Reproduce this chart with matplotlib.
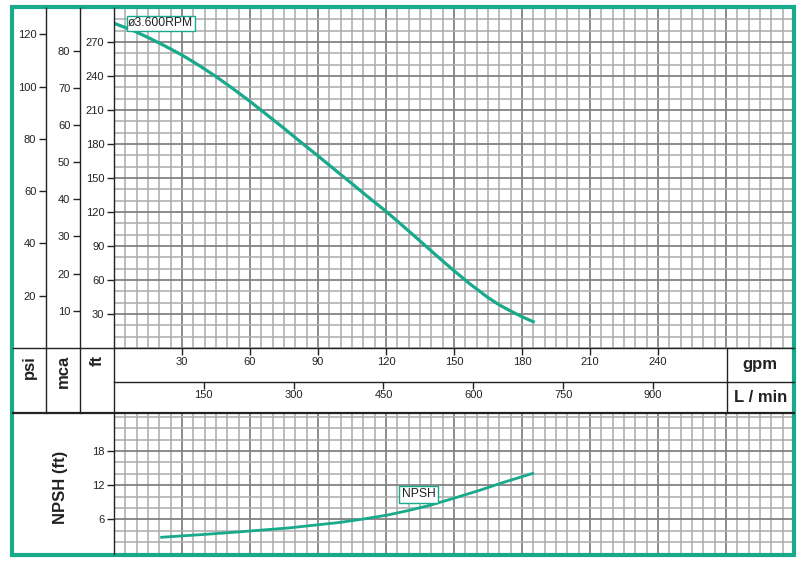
import matplotlib
matplotlib.use('Agg')
import matplotlib.pyplot as plt
from matplotlib.ticker import MultipleLocator
from matplotlib.patches import Rectangle

plt.rcParams['font.family'] = ['Liberation Sans', 'DejaVu Sans']

# pump curve
flow_gpm = [0, 8, 15, 22, 30, 37, 45, 52, 60, 67, 75, 82, 90, 97, 105, 112,
            120, 127, 135, 142, 150, 157, 165, 170, 175, 180, 185.6]
head_ft = [286.5, 280.5, 274, 267, 258.5, 250, 239.5, 229.5, 217.6, 206.5, 193.8, 182.3,
           169.5, 158, 145, 133.4, 120.6, 108.5, 94.5, 82, 68.2, 56.6, 44.5, 38, 32.6, 27.6, 22.6]

npsh_gpm = [21, 40, 55.4, 77.5, 99.6, 110, 120.7, 130, 139.3, 150, 161.4, 172, 184.7]
npsh_ft = [2.85, 3.35, 3.8, 4.5, 5.45, 6.05, 6.75, 7.55, 8.45, 9.7, 11.1, 12.5, 14.05]

ft_ticks = [30, 60, 90, 120, 150, 180, 210, 240, 270]
psi_ticks = [20, 40, 60, 80, 100, 120]
mca_ticks = [10, 20, 30, 40, 50, 60, 70, 80]
gpm_ticks = [30, 60, 90, 120, 150, 180, 210, 240]
lpm_ticks = [150, 300, 450, 600, 750, 900]
npsh_ticks = [6, 12, 18]

teal = '#19a98b'
ink = '#222222'
W, H = 804, 564


def box(x0, y0, x1, y1):
    return [x0 / W, 1 - y1 / H, (x1 - x0) / W, (y1 - y0) / H]


def grid_style(ax):
    ax.grid(which='minor', color='#ababab', lw=1.1)
    ax.grid(which='major', color='#828282', lw=1.3)
    ax.set_axisbelow(True)
    for s in ax.spines.values():
        s.set_visible(False)


fig = plt.figure(figsize=(8.04, 5.64), dpi=100)

# head curve
ax = fig.add_axes(box(114, 8, 794, 348))
ax.plot(flow_gpm, head_ft, color=teal, lw=2.3, solid_capstyle='butt', solid_joinstyle='round')
ax.set_xlim(0, 300)
ax.set_ylim(0, 300)
ax.xaxis.set_major_locator(MultipleLocator(30))
ax.xaxis.set_minor_locator(MultipleLocator(5))
ax.set_yticks(ft_ticks)
ax.yaxis.set_minor_locator(MultipleLocator(10))
grid_style(ax)
ax.tick_params(axis='x', which='both', length=0, labelbottom=False)
ax.tick_params(axis='y', which='major', length=5, width=1, labelsize=8, colors=ink, pad=2)
ax.tick_params(axis='y', which='minor', length=0)
ax.text(6.2, 286.5, 'ø3.600RPM', fontsize=8.7, color=ink, ha='left', va='center',
        bbox=dict(boxstyle='square,pad=0.12', fc='white', ec=teal, lw=1))

psi = ax.secondary_yaxis(-0.1, functions=(lambda f: f * 0.4335, lambda p: p / 0.4335))
psi.set_yticks(psi_ticks)
mca = ax.secondary_yaxis(-0.05, functions=(lambda f: f * 0.3048, lambda m: m / 0.3048))
mca.set_yticks(mca_ticks)
for sec in (psi, mca):
    sec.spines['left'].set_visible(False)
    sec.tick_params(length=5, width=1, labelsize=8, colors=ink, pad=2)

# flow scales band
ax_gpm = fig.add_axes(box(114, 348, 794, 382))
ax_lpm = fig.add_axes(box(114, 382, 794, 413))
for band, ticks, top, yfrac in ((ax_gpm, gpm_ticks, 300, 0.6), (ax_lpm, lpm_ticks, 300 * 3.785, 0.58)):
    band.set_xlim(0, top)
    band.set_ylim(0, 1)
    band.set_yticks([])
    band.xaxis.tick_top()
    band.set_xticks(ticks)
    band.tick_params(axis='x', direction='in', length=5, width=1, labeltop=False, colors=ink)
    for s in band.spines.values():
        s.set_visible(False)
    for t in ticks:
        band.text(t, yfrac, str(t), transform=band.get_xaxis_transform(),
                  ha='center', va='center', fontsize=8, color=ink)

# NPSH curve
ax2 = fig.add_axes(box(114, 413, 794, 553.5))
ax2.plot(npsh_gpm, npsh_ft, color=teal, lw=2.0, solid_joinstyle='round')
ax2.set_xlim(0, 300)
ax2.set_ylim(0, 24.65)
ax2.xaxis.set_major_locator(MultipleLocator(30))
ax2.xaxis.set_minor_locator(MultipleLocator(5))
ax2.set_yticks(npsh_ticks)
ax2.yaxis.set_minor_locator(MultipleLocator(2))
grid_style(ax2)
ax2.tick_params(axis='x', which='both', length=0, labelbottom=False)
ax2.tick_params(axis='y', which='major', length=5, width=1, labelsize=8, colors=ink, pad=2)
ax2.tick_params(axis='y', which='minor', length=0)
ax2.text(134.3, 10.4, 'NPSH', fontsize=8.7, color=ink, ha='center', va='center',
         bbox=dict(boxstyle='square,pad=0.2', fc='white', ec=teal, lw=1))

# frame lines and labels
fr = fig.add_axes([0, 0, 1, 1])
fr.set_xlim(0, W)
fr.set_ylim(H, 0)
fr.axis('off')
fr.plot([46, 46], [8, 413], color=ink, lw=1)
fr.plot([80, 80], [8, 413], color=ink, lw=1)
fr.plot([114, 114], [8, 554], color=ink, lw=1)
fr.plot([13, 794], [348, 348], color=ink, lw=1)
fr.plot([114, 794], [382, 382], color=ink, lw=1)
fr.plot([13, 794], [413, 413], color=ink, lw=1.6)
fr.plot([727, 727], [348, 413], color=ink, lw=1)
fr.add_patch(Rectangle((12.5, 6.5), 782, 548.5, fill=False, ec=teal, lw=3))

bold = dict(fontsize=12, fontweight='bold', color=ink)
fr.text(29, 355, 'psi', rotation=90, ha='center', va='top', **bold)
fr.text(63, 355, 'mca', rotation=90, ha='center', va='top', **bold)
fr.text(97, 355, 'ft', rotation=90, ha='center', va='top', **bold)
fr.text(61, 487, 'NPSH (ft)', rotation=90, ha='center', va='center', **bold)
fr.text(760, 364, 'gpm', ha='center', va='center', **bold)
fr.text(761, 397, 'L / min', ha='center', va='center', **bold)

fig.savefig('out.png', dpi=100)
